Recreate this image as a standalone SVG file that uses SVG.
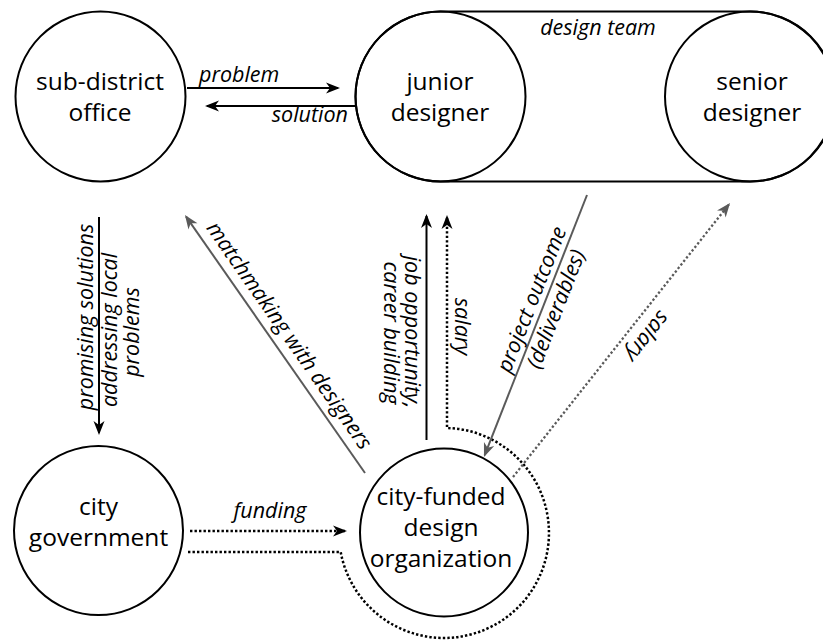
<svg xmlns="http://www.w3.org/2000/svg" width="823" height="642" viewBox="0 0 823 642">
  <style>
    .node { fill: none; stroke: #000; stroke-width: 2; }
    .name { font-family: "Open Sans", "Noto Sans", sans-serif; font-size: 24.5px; fill: #000; text-anchor: middle; }
    .lbl { font-family: "Open Sans", "Noto Sans", sans-serif; font-size: 21.5px; font-style: italic; fill: #000; }
    .mid { text-anchor: middle; }
    .solid { fill: none; stroke: #000; stroke-width: 2; marker-end: url(#ah); }
    .solid-g { fill: none; stroke: #5a5a5a; stroke-width: 2; marker-end: url(#ahg); }
    .dot { fill: none; stroke: #000; stroke-width: 2.5; stroke-dasharray: 2.4 2.1; }
    .dot-g { fill: none; stroke: #5a5a5a; stroke-width: 2.3; stroke-dasharray: 2.3 2.2; marker-end: url(#ahg); }
  </style>
  <defs>
    <marker id="ah" markerUnits="userSpaceOnUse" markerWidth="16" markerHeight="12" viewBox="0 0 16 12" refX="12" refY="6" orient="auto" overflow="visible">
      <path d="M14,6 L0,0.5 L4,6 L0,11.5 Z" fill="#000"/>
    </marker>
    <marker id="ahg" markerUnits="userSpaceOnUse" markerWidth="16" markerHeight="12" viewBox="0 0 16 12" refX="12" refY="6" orient="auto" overflow="visible">
      <path d="M14,6 L0,0.5 L4,6 L0,11.5 Z" fill="#5a5a5a"/>
    </marker>
  </defs>

  <rect width="823" height="642" fill="#fff"/>

  <!-- design team enclosure -->
  <g id="design-team">
    <rect class="node" x="355.5" y="11.5" width="480" height="170" rx="85" ry="85"/>
    <text class="lbl mid" x="598" y="35">design team</text>
  </g>

  <g id="sub-district-office">
    <circle class="node" cx="100.5" cy="96.5" r="85"/>
    <text class="name" x="100" y="90">sub-district</text>
    <text class="name" x="100" y="121">office</text>
  </g>

  <g id="junior-designer">
    <circle class="node" cx="440.5" cy="96.5" r="85"/>
    <text class="name" x="440" y="90">junior</text>
    <text class="name" x="440" y="121">designer</text>
  </g>

  <g id="senior-designer">
    <circle class="node" cx="750" cy="96.5" r="85"/>
    <text class="name" x="752" y="90">senior</text>
    <text class="name" x="752" y="121">designer</text>
  </g>

  <g id="city-government">
    <circle class="node" cx="98.5" cy="530.5" r="84.5"/>
    <text class="name" x="98.5" y="514.5">city</text>
    <text class="name" x="98.5" y="545.5">government</text>
  </g>

  <g id="design-organization">
    <circle class="node" cx="444" cy="532.5" r="84"/>
    <text class="name" x="441" y="505">city-funded</text>
    <text class="name" x="441" y="536">design</text>
    <text class="name" x="441" y="567">organization</text>
  </g>

  <g id="connectors">
    <!-- problem / solution -->
    <line class="solid" x1="187" y1="88" x2="338" y2="88"/>
    <text class="lbl" x="199" y="82">problem</text>
    <line class="solid" x1="356" y1="106" x2="207" y2="106"/>
    <text class="lbl" x="348" y="122" text-anchor="end">solution</text>

    <!-- promising solutions -->
    <line class="solid" x1="99" y1="217" x2="99" y2="433"/>
    <text class="lbl mid" transform="translate(93,317) rotate(-90)">promising solutions</text>
    <text class="lbl mid" transform="translate(117,330) rotate(-90)">addressing local</text>
    <text class="lbl mid" transform="translate(139,332) rotate(-90)">problems</text>

    <!-- matchmaking with designers -->
    <line class="solid-g" x1="365" y1="473" x2="186.1" y2="216.6"/>
    <text class="lbl mid" transform="translate(278.5,343) rotate(55.1)" y="-6">matchmaking with designers</text>

    <!-- job opportunity -->
    <line class="solid" x1="426.5" y1="440" x2="426.5" y2="216"/>
    <text class="lbl mid" transform="translate(405,332) rotate(90)">job opportunity,</text>
    <text class="lbl mid" transform="translate(384,333) rotate(90)">career building</text>

    <!-- salary from city government, around the organization, to the junior designer -->
    <path class="dot" d="M188,552 H340.7 A105,105 0 1 0 447,428 V217" marker-end="url(#ah)"/>
    <text class="lbl mid" transform="translate(455,326.5) rotate(90)">salary</text>

    <!-- funding -->
    <line class="dot" x1="190" y1="531" x2="345" y2="531" marker-end="url(#ah)"/>
    <text class="lbl mid" x="270" y="518">funding</text>

    <!-- project outcome -->
    <line class="solid-g" x1="587" y1="195" x2="484.7" y2="455.1"/>
    <g transform="translate(544,304.3) rotate(-68.5)">
      <text class="lbl mid" y="-6">project outcome</text>
      <text class="lbl mid" y="20">(deliverables)</text>
    </g>

    <!-- salary to the senior designer -->
    <line class="dot-g" x1="513" y1="477" x2="728.8" y2="204.6"/>
    <text class="lbl mid" transform="translate(633.1,325.3) rotate(128.4)" y="-11">salary</text>
  </g>
</svg>
